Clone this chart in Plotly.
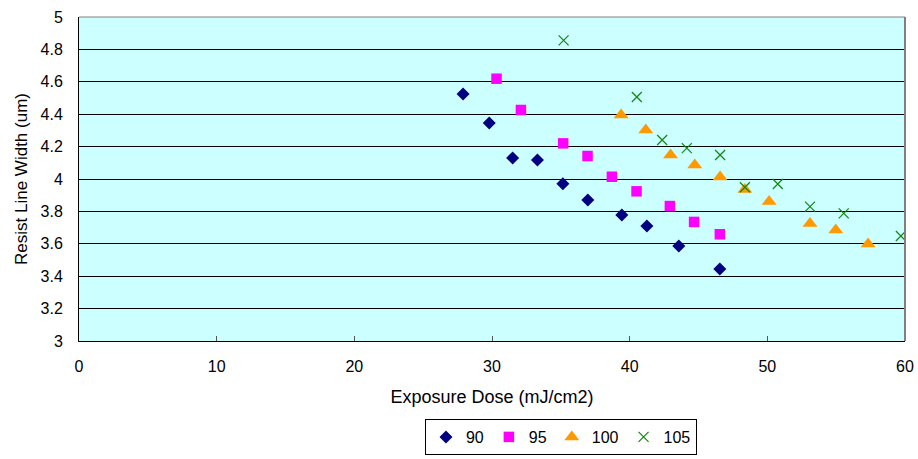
import plotly.graph_objects as go

x90 = [27.9, 29.8, 31.5, 33.3, 35.15, 36.96, 39.43, 41.25, 43.57, 46.55]
y90 = [4.525, 4.346, 4.13, 4.117, 3.97, 3.87, 3.778, 3.71, 3.586, 3.444]

x95 = [30.33, 32.1, 35.17, 36.94, 38.71, 40.5, 42.92, 44.68, 46.55]
y95 = [4.619, 4.426, 4.22, 4.142, 4.014, 3.924, 3.833, 3.735, 3.659]

x100 = [39.38, 41.17, 42.97, 44.73, 46.57, 48.37, 50.13, 53.1, 54.97, 57.32]
y100 = [4.395, 4.302, 4.148, 4.086, 4.012, 3.935, 3.861, 3.725, 3.685, 3.599]

x105 = [35.2, 40.52, 42.36, 44.15, 46.57, 48.37, 50.76, 53.1, 55.55, 59.7]
y105 = [4.856, 4.506, 4.241, 4.191, 4.148, 3.949, 3.969, 3.829, 3.788, 3.648]

FONT = "Liberation Sans, Arial, sans-serif"

fig = go.Figure()
fig.add_trace(go.Scatter(x=x90, y=y90, mode="markers", name="90",
                         marker=dict(symbol="diamond", size=10, color="#000080")))
fig.add_trace(go.Scatter(x=x95, y=y95, mode="markers", name="95",
                         marker=dict(symbol="square", size=10.5, color="#FF00FF")))
fig.add_trace(go.Scatter(x=x100, y=y100, mode="markers", name="100",
                         marker=dict(symbol="triangle-up", size=13, color="#FF9900")))
fig.add_trace(go.Scatter(x=x105, y=y105, mode="markers", name="105",
                         marker=dict(symbol="x-thin", size=10, color="#118811",
                                     line=dict(width=1.2, color="#118811"))))

fig.update_layout(
    width=918, height=459,
    margin=dict(l=79, r=13, t=17, b=118),
    paper_bgcolor="white",
    plot_bgcolor="#CCFFFF",
    font=dict(family=FONT, size=16, color="black"),
    showlegend=True,
    legend=dict(orientation="h", x=0.5835, xanchor="center",
                yref="container", y=1 - 455 / 459, yanchor="bottom",
                bordercolor="black", borderwidth=1, bgcolor="white",
                font=dict(family=FONT, size=16), itemwidth=30, tracegroupgap=0),
    xaxis=dict(range=[0, 60], dtick=10, tick0=0, showgrid=False, zeroline=False,
               showline=True, linecolor="black", linewidth=1, mirror=False,
               ticks="inside", ticklen=5, tickcolor="#555555", automargin=False,
               ticklabelstandoff=11,
               title=dict(text="Exposure Dose (mJ/cm2)", font=dict(family=FONT, size=18), standoff=16),
               tickfont=dict(family=FONT, size=16)),
    yaxis=dict(range=[3, 5], dtick=0.2, tick0=3, showgrid=True, gridcolor="black", gridwidth=1,
               zeroline=False, showline=True, linecolor="black", linewidth=1,
               ticks="", tickformat="~g", automargin=False, ticklabelstandoff=12,
               title=dict(text="Resist Line Width (um)", font=dict(family=FONT, size=17), standoff=8),
               tickfont=dict(family=FONT, size=16)),
)

# frame on top and right (gray like reference)
fig.add_shape(type="line", xref="paper", yref="paper", x0=1, x1=1, y0=0, y1=1,
              line=dict(color="#808080", width=2))
fig.add_shape(type="line", xref="paper", yref="paper", x0=0, x1=1, y0=1, y1=1,
              line=dict(color="#808080", width=1))

fig.write_html("out.html")
